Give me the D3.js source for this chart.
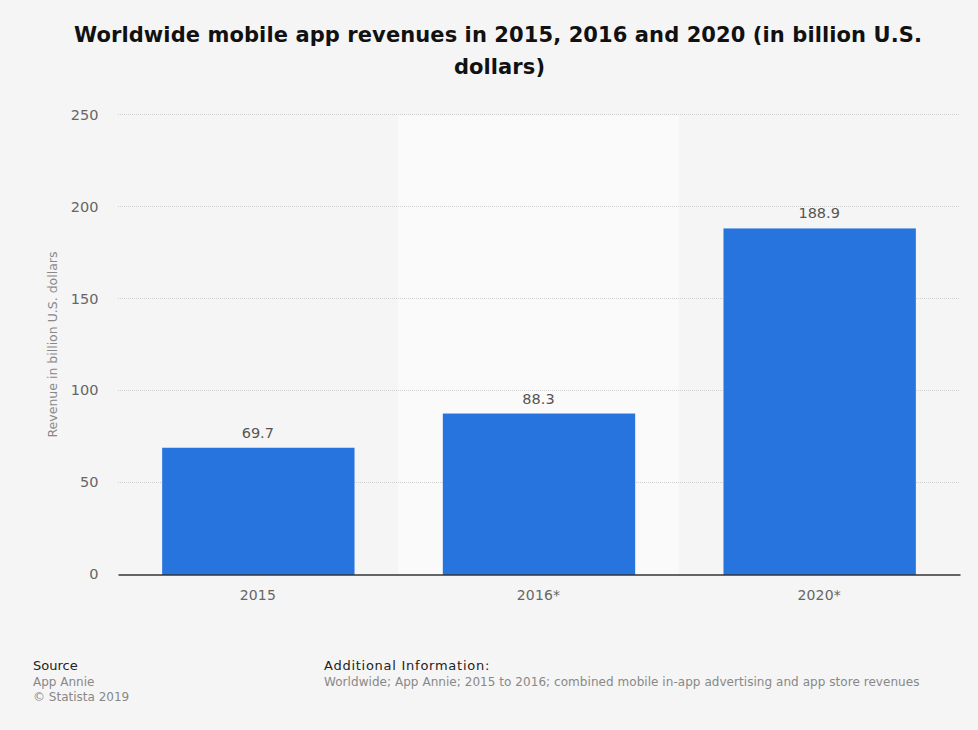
<!DOCTYPE html>
<html>
<head>
<meta charset="utf-8">
<script src="https://cdn.jsdelivr.net/npm/d3@7"></script>
<style>
html, body { margin: 0; padding: 0; background: #f5f5f5; }
svg { display: block; font-family: "DejaVu Sans", sans-serif; }
</style>
</head>
<body>
<script>
// chart values
var categories = ["2015", "2016*", "2020*"];
var revenues = [69.7, 88.3, 188.9];
var valueLabels = ["69.7", "88.3", "188.9"];
var yTicks = [0, 50, 100, 150, 200, 250];

var w = 978, h = 730;
var plot = { left: 118, right: 960, top: 115, bottom: 575 };

var svg = d3.select("body").append("svg")
    .attr("width", w)
    .attr("height", h);

svg.append("rect")
    .attr("width", w)
    .attr("height", h)
    .style("fill", "#f5f5f5");

// title:
var title = svg.append("text")
    .attr("text-anchor", "middle")
    .style("font-size", "21px")
    .style("font-weight", "bold")
    .style("letter-spacing", "0.09px")
    .style("fill", "#111");
title.append("tspan").attr("x", 498).attr("y", 42).text("Worldwide mobile app revenues in 2015, 2016 and 2020 (in billion U.S.");
title.append("tspan").attr("x", 499.5).attr("y", 74).text("dollars)");

// scales:
var x = d3.scaleBand()
    .domain(categories)
    .range([plot.left, plot.right])
    .paddingInner(0.3146)
    .paddingOuter(0.1573);

var y = d3.scaleLinear()
    .domain([0, 250])
    .range([plot.bottom, plot.top]);

// lighter band behind the middle category:
var step = x.step();
svg.append("rect")
    .attr("x", x("2016*") + x.bandwidth() / 2 - step / 2 - 0.5)
    .attr("y", plot.top)
    .attr("width", step)
    .attr("height", plot.bottom - plot.top)
    .style("fill", "#fafafa");

// gridlines:
svg.selectAll(".grid")
    .data(yTicks.filter(function(d){ return d > 0; }))
    .enter()
    .append("line")
    .attr("class", "grid")
    .attr("x1", plot.left)
    .attr("x2", plot.right)
    .attr("y1", function(d){ return Math.round(y(d)) - 0.5; })
    .attr("y2", function(d){ return Math.round(y(d)) - 0.5; })
    .style("stroke", "#d0d0d0")
    .style("stroke-width", 1)
    .style("stroke-dasharray", "1,1");

// bars (tops sit 1px under the scale in the reference):
svg.selectAll(".bar")
    .data(revenues)
    .enter()
    .append("rect")
    .attr("class", "bar")
    .attr("x", function(d, i){ return x(categories[i]); })
    .attr("y", function(d){ return y(d) + 1; })
    .attr("width", x.bandwidth())
    .attr("height", function(d){ return y(0) - y(d) - 1; })
    .style("fill", "#2874de");

// value labels:
svg.selectAll(".value")
    .data(revenues)
    .enter()
    .append("text")
    .attr("class", "value")
    .attr("text-anchor", "middle")
    .attr("x", function(d, i){ return x(categories[i]) + x.bandwidth() / 2 - 0.5; })
    .attr("y", function(d){ return y(d) - 9; })
    .style("font-size", "14.5px")
    .style("fill", "#555")
    .text(function(d, i){ return valueLabels[i]; });

// y axis labels:
var yAxis = d3.axisLeft(y).tickValues(yTicks).tickSize(0).tickPadding(0);
var yg = svg.append("g")
    .attr("transform", "translate(98.5, 0)")
    .call(yAxis);
yg.select(".domain").remove();
yg.selectAll("text")
    .attr("y", function(d){ return -1.5 + d * 0.006; }) // labels drift slightly from the gridlines
    .style("font-family", "'DejaVu Sans', sans-serif")
    .style("font-size", "14.5px")
    .style("fill", "#666");

// x axis:
var xAxis = d3.axisBottom(x).tickSize(0).tickPadding(15);
var xg = svg.append("g")
    .attr("transform", "translate(0, " + plot.bottom + ")")
    .call(xAxis);
xg.select(".domain")
    .attr("transform", "translate(0, -0.5)")
    .style("stroke", "#333")
    .style("stroke-width", 1.5);
xg.selectAll("text")
    .attr("dx", -0.5)
    .style("font-family", "'DejaVu Sans', sans-serif")
    .style("font-size", "14px")
    .style("letter-spacing", "0.15px")
    .style("fill", "#666");

// y axis title:
svg.append("text")
    .attr("text-anchor", "middle")
    .attr("transform", "translate(57, 344.5) rotate(-90)")
    .style("font-size", "12.5px")
    .style("fill", "#888")
    .text("Revenue in billion U.S. dollars");

// footer:
function foot(tx, ty, str, size, color, spacing) {
    svg.append("text")
        .attr("x", tx)
        .attr("y", ty)
        .style("font-size", size)
        .style("letter-spacing", spacing || "0")
        .style("fill", color)
        .text(str);
}
foot(33, 670, "Source", "13px", "#222");
foot(33, 686, "App Annie", "12px", "#888");
foot(33, 701, "\u00a9 Statista 2019", "12px", "#888");
foot(324, 670, "Additional Information:", "13px", "#222", "0.74px");
foot(324, 686, "Worldwide; App Annie; 2015 to 2016; combined mobile in-app advertising and app store revenues", "12px", "#888", "0.05px");
</script>
</body>
</html>
